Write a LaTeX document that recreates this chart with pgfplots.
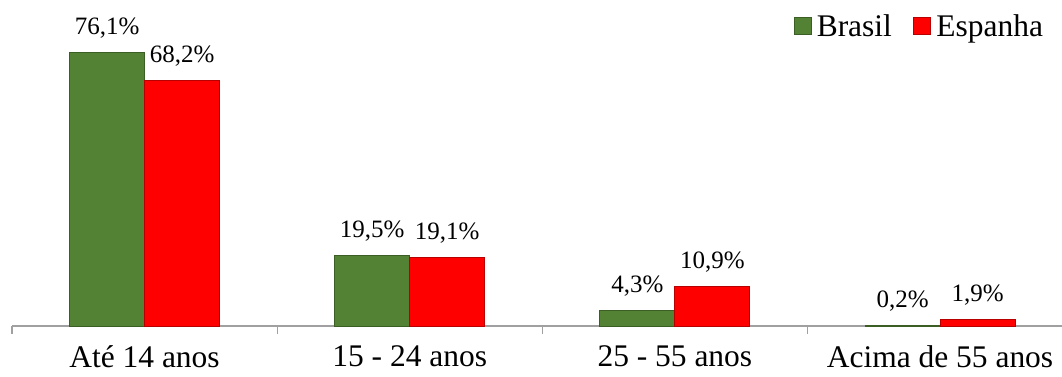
\documentclass[border=0pt]{standalone}
\usepackage{pgfplots}
\pgfplotsset{compat=1.18}
\usepackage{fontspec}
\setmainfont{Liberation Serif}
\definecolor{bgreen}{HTML}{548235}
\definecolor{bgreendk}{HTML}{3A5E24}
\definecolor{ered}{HTML}{FF0000}
\definecolor{ereddk}{HTML}{B80000}
\definecolor{axgray}{HTML}{A0A0A0}
\begin{document}
\begin{tikzpicture}
\begin{axis}[
  scale only axis,
  width=787.5pt, height=244.5pt,
  xmin=-0.5, xmax=3.46,
  ymin=0, ymax=90.56,
  ybar=0pt, bar width=56.25pt,
  axis x line*=bottom, axis y line=none,
  axis line style={axgray, line width=0.8pt},
  xtick={0,1,2,3},
  xticklabels={Até 14 anos, 15 - 24 anos, 25 - 55 anos, Acima de 55 anos},
  major tick length=0pt,
  minor xtick={-0.5,0.5,1.5,2.5},
  minor tick length=6pt,
  tick align=outside,
  minor tick style={axgray, line width=0.8pt},
  xticklabel style={font=\fontsize{23.6}{28}\selectfont, inner sep=0pt, yshift=-14.5pt},
  nodes near coords={\pgfmathprintnumber[fixed, precision=1, fixed zerofill, use comma, assume math mode=true]{\pgfplotspointmeta}\%},
  every node near coord/.append style={font=\fontsize{18.75}{22}\selectfont, black, yshift=7pt},
  legend columns=2,
  legend style={draw=none, fill=none, at={(1,1)}, anchor=north east, xshift=-9pt, yshift=-6.5pt,
    font=\fontsize{23.6}{28}\selectfont, column sep=2pt,
    /tikz/every even column/.append style={column sep=14pt}},
  legend image code/.code={\draw[#1] (0pt,-6.4pt) rectangle (12.8pt,6.4pt);},
]
\addplot[fill=bgreen, draw=bgreendk, line width=0.6pt] coordinates {(0,76.1) (1,19.5) (2,4.3) (3,0.2)};
\addplot[fill=ered, draw=ereddk, line width=0.6pt] coordinates {(0,68.2) (1,19.1) (2,10.9) (3,1.9)};
\legend{Brasil, Espanha}
\end{axis}
\pgfresetboundingbox
\path[use as bounding box] ([xshift=-9pt,yshift=-37.5pt]current axis.south west) rectangle (current axis.north east);
\end{tikzpicture}
\end{document}
